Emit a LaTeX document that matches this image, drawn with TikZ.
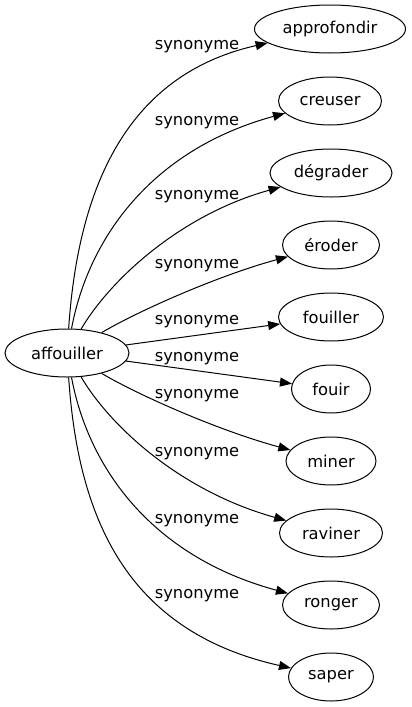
\documentclass[tikz,border=0pt]{standalone}
\usepackage{fontspec}
\setmainfont{DejaVu Sans}
\usetikzlibrary{shapes.geometric,arrows.meta}

\begin{document}
\begin{tikzpicture}[x=1pt, y=-1pt, line width=1pt,
		word/.style={draw, ellipse, inner sep=0pt, minimum height=48pt, font=\fontsize{16.3}{19}\selectfont},
		rel/.style={inner sep=0pt, font=\fontsize{16.3}{19}\selectfont},
		syn/.style={-{Triangle[length=12pt, width=9pt]}}]
		\useasboundingbox (0, 0) rectangle (412, 707);
		% mots
		\node [word, minimum width=124pt] (affouiller) at (67, 353) {affouiller};
		\node [word, minimum width=151pt] (approfondir) at (330, 29) {approfondir};
		\node [word, minimum width=103pt] (creuser) at (330, 101) {creuser};
		\node [word, minimum width=122pt] (degrader) at (331, 173) {dégrader};
		\node [word, minimum width=97pt] (eroder) at (331, 245) {éroder};
		\node [word, minimum width=105pt] (fouiller) at (331, 317) {fouiller};
		\node [word, minimum width=79pt] (fouir) at (331, 389) {fouir};
		\node [word, minimum width=90pt] (miner) at (331, 461) {miner};
		\node [word, minimum width=103pt] (raviner) at (331, 533) {raviner};
		\node [word, minimum width=97pt] (ronger) at (331, 605) {ronger};
		\node [word, minimum width=85pt] (saper) at (331, 677) {saper};
		% liens
		\draw [syn] (affouiller) .. controls (78, 190) and (125, 75) .. (approfondir);
		\draw [syn] (affouiller) .. controls (88, 240) and (150, 150) .. (creuser);
		\draw [syn] (affouiller) .. controls (110, 280) and (180, 215) .. (degrader);
		\draw [syn] (affouiller) .. controls (140, 310) and (220, 275) .. (eroder);
		\draw [syn] (affouiller) -- (fouiller);
		\draw [syn] (affouiller) -- (fouir);
		\draw [syn] (affouiller) .. controls (140, 396) and (220, 431) .. (miner);
		\draw [syn] (affouiller) .. controls (110, 426) and (180, 491) .. (raviner);
		\draw [syn] (affouiller) .. controls (88, 466) and (150, 556) .. (ronger);
		\draw [syn] (affouiller) .. controls (78, 516) and (125, 631) .. (saper);
		% etiquettes
		\node [rel] (s1) at (197, 47) {synonyme};
		\node [rel] (s2) at (197, 122.5) {synonyme};
		\node [rel] (s3) at (197, 196.5) {synonyme};
		\node [rel] (s4) at (197, 265.5) {synonyme};
		\node [rel] (s5) at (197, 322) {synonyme};
		\node [rel] (s6) at (197, 359) {synonyme};
		\node [rel] (s7) at (197, 395.5) {synonyme};
		\node [rel] (s8) at (197, 454) {synonyme};
		\node [rel] (s9) at (197, 520.5) {synonyme};
		\node [rel] (s10) at (197, 595.5) {synonyme};
	\end{tikzpicture}
\end{document}
